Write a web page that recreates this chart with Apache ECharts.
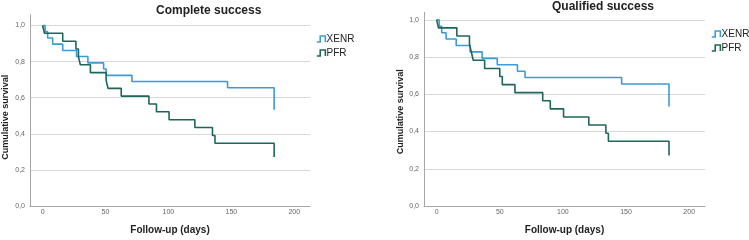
<!DOCTYPE html>
<html>
<head>
<meta charset="utf-8">
<script src="https://cdn.jsdelivr.net/npm/echarts@6/dist/echarts.min.js"></script>
<style>
  html, body { margin: 0; padding: 0; background: #fff; }
  #chart { width: 749px; height: 240px; }
</style>
</head>
<body>
<div id="chart"></div>
<script>
  // Kaplan-Meier steps (day of event, survival after event)
  const completeXenrDays = [0, 2, 4, 8, 16, 27, 36, 48.5, 50.5, 71, 147, 184];
  const completeXenrSurv = [1, 0.966, 0.931, 0.897, 0.862, 0.828, 0.793, 0.759, 0.724, 0.690, 0.655, 0.534];
  const completePfrDays = [0, 1.5, 16, 26.5, 28.5, 30, 38, 50.5, 52, 62.5, 84.5, 90.5, 100.5, 121, 135, 137, 184];
  const completePfrSurv = [1, 0.957, 0.913, 0.870, 0.826, 0.783, 0.739, 0.696, 0.652, 0.609, 0.565, 0.522, 0.478, 0.435, 0.391, 0.348, 0.271];

  const qualifiedXenrDays = [0, 2, 4, 7.5, 15.5, 26.5, 36, 48, 64, 70, 146.5, 184];
  const qualifiedXenrSurv = [1, 0.966, 0.931, 0.897, 0.862, 0.828, 0.793, 0.759, 0.724, 0.690, 0.655, 0.534];
  const qualifiedPfrDays = [0, 1.5, 16, 26, 27.5, 29, 38, 50, 52, 62, 84, 90, 100.5, 120.5, 134, 136, 184];
  const qualifiedPfrSurv = [1, 0.957, 0.913, 0.870, 0.826, 0.783, 0.739, 0.696, 0.652, 0.609, 0.565, 0.522, 0.478, 0.435, 0.391, 0.348, 0.271];

  const groupNames = ['XENR', 'PFR'];
  const panelTitles = ['Complete success', 'Qualified success'];
  const xLabelTicks = [0, 50, 100, 150, 200];

  const blue = '#3d9ad9';
  const green = '#1f665a';
  const font = 'Liberation Sans, Arial, sans-serif';
  const stepIcon = 'path://M0,7 L4,7 L4,0 L10,0 L10,7';

  function pairs(days, surv) {
    return days.map((d, i) => [d, surv[i]]);
  }

  function xAxisFor(gridIndex) {
    return {
      type: 'value', gridIndex: gridIndex,
      min: -10, max: 212.5, interval: 2.5,
      name: 'Follow-up (days)', nameLocation: 'middle', nameGap: 19,
      nameTextStyle: { fontFamily: font, fontWeight: 'bold', fontSize: 10, color: '#222' },
      axisLine: { show: true, onZero: false, lineStyle: { color: '#a6a6a6', width: 1 } },
      axisTick: { show: false },
      splitLine: { show: false },
      axisLabel: {
        margin: 3, fontFamily: font, fontSize: 7, color: '#666',
        formatter: function (v) {
          return xLabelTicks.some(t => Math.abs(t - v) < 1e-6) ? String(Math.round(v)) : '';
        }
      }
    };
  }

  function yAxisFor(gridIndex, max, gap, shift) {
    return {
      type: 'value', gridIndex: gridIndex,
      min: 0, max: max, interval: 0.2,
      name: 'Cumulative survival', nameLocation: 'middle', nameGap: gap,
      nameTextStyle: { fontFamily: font, fontWeight: 'bold', fontSize: 9, color: '#222', padding: [0, shift, 0, 0] },
      axisLine: { show: true, onZero: false, lineStyle: { color: '#a6a6a6', width: 1 } },
      axisTick: { show: false },
      splitLine: {
        show: true,
        lineStyle: { color: ['#d9d9d9', '#d9d9d9', '#d9d9d9', '#d9d9d9', '#d9d9d9', '#d9d9d9', 'rgba(0,0,0,0)'], width: 1 }
      },
      axisLabel: {
        margin: 5, fontFamily: font, fontSize: 7, color: '#666',
        formatter: function (v) {
          if (Math.abs(v * 5 - Math.round(v * 5)) > 1e-6) return '';
          return v.toFixed(1).replace('.', ',');
        }
      }
    };
  }

  function legendFor(left, top) {
    return {
      orient: 'vertical', left: left, top: top,
      icon: stepIcon, itemWidth: 11, itemHeight: 6, itemGap: 4,
      textStyle: { fontFamily: font, fontSize: 10, color: '#222', padding: [0, 0, 0, -5] },
      data: [
        { name: groupNames[0], itemStyle: { color: 'rgba(0,0,0,0)', borderColor: blue, borderWidth: 1.6 } },
        { name: groupNames[1], itemStyle: { color: 'rgba(0,0,0,0)', borderColor: green, borderWidth: 1.6 } }
      ]
    };
  }

  function stepSeries(name, color, idx, data) {
    return {
      name: name, type: 'line', step: 'end',
      xAxisIndex: idx, yAxisIndex: idx,
      showSymbol: false, symbol: 'none',
      lineStyle: { color: color, width: 1.6 },
      itemStyle: { color: color },
      data: data,
      animation: false
    };
  }

  const chart = echarts.init(document.getElementById('chart'));

  const option = {
    animation: false,
    title: [
      { text: panelTitles[0], left: 151, top: 0, textStyle: { fontFamily: font, fontSize: 12, fontWeight: 'bold', color: '#222' } },
      { text: panelTitles[1], left: 547, top: -4, textStyle: { fontFamily: font, fontSize: 12, fontWeight: 'bold', color: '#222' } }
    ],
    legend: [legendFor(311, 29), legendFor(706, 24)],
    grid: [
      { left: 30, top: 14.7, width: 280, height: 194 },
      { left: 424, top: 12.4, width: 281, height: 196.6 }
    ],
    xAxis: [xAxisFor(0), xAxisFor(1)],
    yAxis: [yAxisFor(0, 1.06, 20, 14), yAxisFor(1, 1.04, 19, 5)],
    series: [
      stepSeries(groupNames[0], blue, 0, pairs(completeXenrDays, completeXenrSurv)),
      stepSeries(groupNames[1], green, 0, pairs(completePfrDays, completePfrSurv)),
      stepSeries(groupNames[0], blue, 1, pairs(qualifiedXenrDays, qualifiedXenrSurv)),
      stepSeries(groupNames[1], green, 1, pairs(qualifiedPfrDays, qualifiedPfrSurv))
    ]
  };

  chart.setOption(option);
</script>
</body>
</html>
